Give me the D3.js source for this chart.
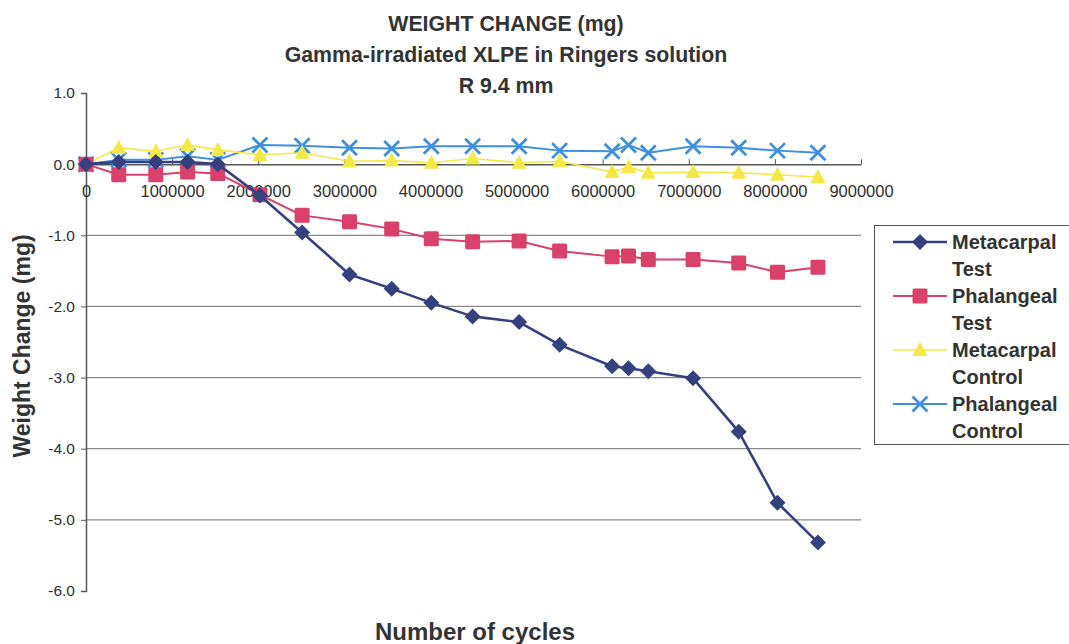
<!DOCTYPE html>
<html><head><meta charset="utf-8">
<script src="https://cdn.jsdelivr.net/npm/d3@7"></script>
<style>
html,body{margin:0;padding:0;background:#fff;}
svg{display:block;font-family:"Liberation Sans",Arial,sans-serif;}
</style></head>
<body>
<svg id="c" width="1069" height="644"></svg>
<script>
const cycles = [0, 380000, 810000, 1180000, 1530000, 2020000, 2510000, 3060000, 3550000, 4010000, 4490000, 5030000, 5500000, 6110000, 6300000, 6530000, 7050000, 7580000, 8030000, 8500000];
const metacarpalTest = [0, 0.03, 0.03, 0.03, 0.0, -0.44, -0.96, -1.55, -1.75, -1.95, -2.14, -2.22, -2.54, -2.84, -2.87, -2.91, -3.01, -3.76, -4.76, -5.32];
const phalangealTest = [0, -0.15, -0.15, -0.11, -0.13, -0.43, -0.72, -0.81, -0.91, -1.05, -1.09, -1.08, -1.22, -1.30, -1.29, -1.34, -1.34, -1.39, -1.52, -1.45];
const metacarpalControl = [0, 0.23, 0.18, 0.27, 0.20, 0.13, 0.16, 0.04, 0.05, 0.02, 0.08, 0.02, 0.04, -0.11, -0.04, -0.12, -0.11, -0.12, -0.15, -0.18];
const phalangealControl = [0, 0.06, 0.06, 0.11, 0.06, 0.27, 0.26, 0.23, 0.22, 0.25, 0.25, 0.25, 0.19, 0.18, 0.27, 0.16, 0.25, 0.23, 0.19, 0.16];
const seriesNames = [["Metacarpal", "Test"], ["Phalangeal", "Test"], ["Metacarpal", "Control"], ["Phalangeal", "Control"]];
const xTicks = [0, 1000000, 2000000, 3000000, 4000000, 5000000, 6000000, 7000000, 8000000, 9000000];
const yTicks = [1, 0, -1, -2, -3, -4, -5, -6];
const titleLines = ["WEIGHT CHANGE (mg)", "Gamma-irradiated XLPE in Ringers solution", "R 9.4 mm"];
const xTitle = "Number of cycles";
const yTitle = "Weight Change (mg)";

const series = [
  {name: seriesNames[0], values: metacarpalTest, color: "#34417e", marker: "diamond", width: 2.6},
  {name: seriesNames[1], values: phalangealTest, color: "#d9406a", marker: "square", width: 2},
  {name: seriesNames[2], values: metacarpalControl, color: "#f3e845", marker: "triangle", width: 1.6},
  {name: seriesNames[3], values: phalangealControl, color: "#3f8fdf", marker: "cross", width: 2}
];

const svg = d3.select("#c");
const x = d3.scaleLinear().domain([0, 9000000]).range([86, 861]);
const y = d3.scaleLinear().domain([-6, 1]).range([591, 93]);
const textColor = "#2e2e2e";

// gridlines
svg.append("g").selectAll("line").data(yTicks.filter(d => d < 0 && d > -6)).join("line")
  .attr("x1", x(0)).attr("x2", x(9000000))
  .attr("y1", d => y(d)).attr("y2", d => y(d))
  .attr("stroke", "#8a8a8a").attr("stroke-width", 1.2);

// y axis
const yAxis = svg.append("g").attr("transform", `translate(${x(0)},0)`)
  .call(d3.axisLeft(y).tickValues(yTicks).tickSize(5).tickPadding(6).tickFormat(d => d.toFixed(1)));
yAxis.select(".domain").attr("stroke", "#555").attr("stroke-width", 1.5);
yAxis.selectAll(".tick line").attr("stroke", "#555");
yAxis.selectAll("text").attr("fill", textColor).attr("font-size", 15.5).attr("font-family", "Liberation Sans, Arial, sans-serif");

// x axis at y=0
const xAxis = svg.append("g").attr("transform", `translate(0,${y(0)})`)
  .call(d3.axisBottom(x).tickValues(xTicks).tickSize(-5).tickPadding(21).tickSizeOuter(0).tickFormat(d => String(d)));
xAxis.select(".domain").attr("stroke", "#555").attr("stroke-width", 1.5);
xAxis.selectAll(".tick line").attr("stroke", "#555");
xAxis.selectAll("text").attr("fill", textColor).attr("font-size", 16.5).attr("font-family", "Liberation Sans, Arial, sans-serif");

// markers
function drawMarker(g, type, color, cx, cy) {
  if (type === "diamond") {
    g.append("path").attr("d", `M${cx},${cy-8}L${cx+8},${cy}L${cx},${cy+8}L${cx-8},${cy}Z`).attr("fill", color);
  } else if (type === "square") {
    g.append("rect").attr("x", cx-7.5).attr("y", cy-7.5).attr("width", 15).attr("height", 15).attr("rx", 1.5).attr("fill", color);
  } else if (type === "triangle") {
    g.append("path").attr("d", `M${cx},${cy-8}L${cx+7.5},${cy+6}L${cx-7.5},${cy+6}Z`).attr("fill", color);
  } else if (type === "cross") {
    g.append("path").attr("d", `M${cx-7.5},${cy-7.5}L${cx+7.5},${cy+7.5}M${cx+7.5},${cy-7.5}L${cx-7.5},${cy+7.5}`)
      .attr("stroke", color).attr("stroke-width", 2.8).attr("fill", "none");
  }
}

const line = d3.line().x(d => x(d[0])).y(d => y(d[1]));
// draw in reverse order so that Metacarpal Test is on top
[3, 2, 1, 0].forEach(i => {
  const s = series[i];
  const pts = cycles.map((c, j) => [c, s.values[j]]);
  const g = svg.append("g");
  g.append("path").datum(pts).attr("d", line).attr("fill", "none")
    .attr("stroke", s.color).attr("stroke-width", s.width).attr("stroke-linejoin", "round");
  pts.forEach(p => drawMarker(g, s.marker, s.color, x(p[0]), y(p[1])));
});

// titles
svg.append("g").selectAll("text").data(titleLines).join("text")
  .attr("x", 506).attr("y", (d, i) => [31, 62, 93][i])
  .attr("text-anchor", "middle").attr("font-weight", "bold").attr("font-size", 21.3)
  .attr("fill", "#333").text(d => d);

svg.append("text").attr("x", 475).attr("y", 640).attr("text-anchor", "middle")
  .attr("font-weight", "bold").attr("font-size", 24).attr("fill", "#333").text(xTitle);

svg.append("text").attr("transform", "translate(30,346) rotate(-90)").attr("text-anchor", "middle")
  .attr("font-weight", "bold").attr("font-size", 23).attr("fill", "#333").text(yTitle);

// legend
const lg = svg.append("g");
lg.append("rect").attr("x", 874.5).attr("y", 225.5).attr("width", 210).attr("height", 219)
  .attr("fill", "#fff").attr("stroke", "#555").attr("stroke-width", 1);
const legY = [242, 296, 350, 404];
series.forEach((s, i) => {
  const cy = legY[i];
  lg.append("line").attr("x1", 893).attr("x2", 947).attr("y1", cy).attr("y2", cy)
    .attr("stroke", s.color).attr("stroke-width", s.width);
  drawMarker(lg, s.marker, s.color, 920, cy);
  lg.append("text").attr("x", 952).attr("y", cy + 7).attr("font-weight", "bold").attr("font-size", 20)
    .attr("fill", "#333").text(s.name[0]);
  lg.append("text").attr("x", 952).attr("y", cy + 34).attr("font-weight", "bold").attr("font-size", 20)
    .attr("fill", "#333").text(s.name[1]);
});
</script>
</body></html>
